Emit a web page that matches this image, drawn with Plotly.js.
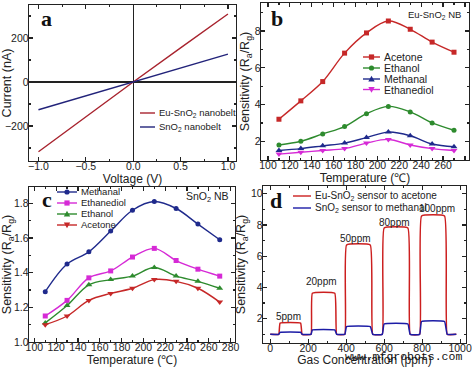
<!DOCTYPE html>
<html>
<head>
<meta charset="utf-8">
<script src="https://cdn.plot.ly/plotly-3.0.1.min.js"></script>
<style>html,body{margin:0;padding:0;background:#fff;}#chart{width:472px;height:367px;}</style>
</head>
<body>
<div id="chart"></div>
<script>
// Panel a: I-V curves
const voltage = [-1.0, -0.5, 0.0, 0.5, 1.0];
const currentEu = [-317, -158, 0, 155, 309];
const currentSn = [-126, -63, 0, 63, 127];

// Panel b: Eu-SnO2 NB sensitivity vs temperature
const temps = [110, 130, 150, 170, 190, 210, 230, 250, 270];
const bAcetone = [3.2, 4.2, 5.25, 6.8, 7.9, 8.55, 8.1, 7.4, 6.85];
const bEthanol = [1.8, 2.0, 2.4, 2.8, 3.5, 3.9, 3.6, 3.0, 2.6];
const bMethanal = [1.5, 1.6, 1.75, 1.9, 2.2, 2.5, 2.3, 1.85, 1.7];
const bEthanediol = [1.3, 1.4, 1.5, 1.6, 1.9, 2.1, 1.8, 1.6, 1.5];

// Panel c: SnO2 NB sensitivity vs temperature
const cMethanal = [1.29, 1.45, 1.52, 1.64, 1.76, 1.81, 1.77, 1.68, 1.59];
const cEthanediol = [1.15, 1.24, 1.37, 1.41, 1.49, 1.54, 1.47, 1.42, 1.38];
const cEthanol = [1.11, 1.21, 1.33, 1.36, 1.38, 1.43, 1.38, 1.35, 1.31];
const cAcetone = [1.10, 1.15, 1.24, 1.28, 1.31, 1.36, 1.35, 1.31, 1.23];

// Panel d: dynamic response
const dTime = [0, 45, 52, 160, 168, 215, 222, 340, 350, 393, 402, 527, 540, 590, 600, 725, 737, 787, 797, 918, 932, 980];
const dEu = [1.0, 1.0, 1.72, 1.72, 1.0, 1.0, 3.63, 3.63, 1.0, 1.0, 6.72, 6.72, 1.0, 1.0, 7.80, 7.80, 1.0, 1.0, 8.57, 8.57, 1.0, 1.0];
const dSn = [1.0, 1.0, 1.13, 1.13, 1.0, 1.0, 1.28, 1.28, 1.0, 1.0, 1.49, 1.49, 1.0, 1.0, 1.66, 1.66, 1.0, 1.0, 1.82, 1.82, 1.0, 1.0];
const ppmLabels = ['5ppm', '20ppm', '50ppm', '80ppm', '100ppm'];
const ppmX = [98, 272, 451, 653, 878];
const ppmY = [2.15, 4.39, 7.16, 8.17, 9.02];

const FONT = 'Arial, "Liberation Sans", sans-serif';
const INK = '#222';
const W = 472, H = 367;

function ax(extra, isY) {
  return Object.assign({
    showline: true, mirror: 'ticks', linecolor: INK, linewidth: 1.3,
    ticks: 'inside', ticklen: 4, tickwidth: 1.2, tickcolor: INK,
    showgrid: false, zeroline: false, automargin: false,
    ticklabelstandoff: isY ? -3 : -5,
    tickfont: {family: FONT, size: 10.5, color: INK},
  }, extra);
}
function ttl(t, isY) {
  return {text: t, standoff: 2, font: {family: FONT, size: isY ? 12.5 : 12, color: INK}};
}

const RED = '#c62828', GREEN = '#2e8b2e', NAVY = '#1f2a8c', MAG = '#d62ad6';
const EU_A = '#a8232e', SN_A = '#22237a', EU_D = '#cc1f1f', SN_D = '#1c1ca6';

const traces = [
  {x: voltage, y: currentEu, mode: 'lines', name: 'Eu-SnO2 nanobelt', line: {color: EU_A, width: 1.4}, xaxis: 'x', yaxis: 'y'},
  {x: voltage, y: currentSn, mode: 'lines', name: 'SnO2 nanobelt', line: {color: SN_A, width: 1.4}, xaxis: 'x', yaxis: 'y'},

  {x: temps, y: bAcetone, mode: 'lines+markers', name: 'Acetone', line: {color: RED, width: 1.4, shape: 'spline'}, marker: {symbol: 'square', size: 5, color: RED}, xaxis: 'x2', yaxis: 'y2'},
  {x: temps, y: bEthanol, mode: 'lines+markers', name: 'Ethanol', line: {color: GREEN, width: 1.4, shape: 'spline'}, marker: {symbol: 'circle', size: 5, color: GREEN}, xaxis: 'x2', yaxis: 'y2'},
  {x: temps, y: bMethanal, mode: 'lines+markers', name: 'Methanal', line: {color: NAVY, width: 1.4, shape: 'spline'}, marker: {symbol: 'triangle-up', size: 6, color: NAVY}, xaxis: 'x2', yaxis: 'y2'},
  {x: temps, y: bEthanediol, mode: 'lines+markers', name: 'Ethanediol', line: {color: MAG, width: 1.4, shape: 'spline'}, marker: {symbol: 'triangle-down', size: 6, color: MAG}, xaxis: 'x2', yaxis: 'y2'},

  {x: temps, y: cMethanal, mode: 'lines+markers', name: 'Methanal', line: {color: NAVY, width: 1.4, shape: 'spline'}, marker: {symbol: 'circle', size: 5, color: NAVY}, xaxis: 'x3', yaxis: 'y3'},
  {x: temps, y: cEthanediol, mode: 'lines+markers', name: 'Ethanediol', line: {color: MAG, width: 1.4, shape: 'spline'}, marker: {symbol: 'square', size: 5, color: MAG}, xaxis: 'x3', yaxis: 'y3'},
  {x: temps, y: cEthanol, mode: 'lines+markers', name: 'Ethanol', line: {color: GREEN, width: 1.4, shape: 'spline'}, marker: {symbol: 'triangle-up', size: 6, color: GREEN}, xaxis: 'x3', yaxis: 'y3'},
  {x: temps, y: cAcetone, mode: 'lines+markers', name: 'Acetone', line: {color: RED, width: 1.4, shape: 'spline'}, marker: {symbol: 'triangle-down', size: 6, color: RED}, xaxis: 'x3', yaxis: 'y3'},

  {x: dTime, y: dEu, mode: 'lines', name: 'Eu-SnO2 sensor to acetone', line: {color: EU_D, width: 1.5, shape: 'spline', smoothing: 0.3}, xaxis: 'x4', yaxis: 'y4'},
  {x: dTime, y: dSn, mode: 'lines', name: 'SnO2 sensor to methanal', line: {color: SN_D, width: 1.5, shape: 'spline', smoothing: 0.3}, xaxis: 'x4', yaxis: 'y4'},
];

// Legend keys drawn as small line samples (decoration only)
const shapes = [];
const annotations = [];
const px = v => v / W, py = v => 1 - v / H;
function key(x0, x1, cy, color, sym, text, size) {
  shapes.push({type: 'line', xref: 'paper', yref: 'paper', x0: px(x0), x1: px(x1), y0: py(cy), y1: py(cy), line: {color: color, width: 1.4}});
  const cx = (x0 + x1) / 2, r = 2.6;
  if (sym === 'square') {
    shapes.push({type: 'rect', xref: 'paper', yref: 'paper', x0: px(cx - r), x1: px(cx + r), y0: py(cy + r), y1: py(cy - r), fillcolor: color, line: {width: 0}});
  } else if (sym === 'circle') {
    shapes.push({type: 'circle', xref: 'paper', yref: 'paper', x0: px(cx - r), x1: px(cx + r), y0: py(cy + r), y1: py(cy - r), fillcolor: color, line: {width: 0}});
  } else if (sym === 'up') {
    shapes.push({type: 'path', xref: 'paper', yref: 'paper', path: `M${px(cx - 3.2)},${py(cy + 2.4)} L${px(cx + 3.2)},${py(cy + 2.4)} L${px(cx)},${py(cy - 3.2)} Z`, fillcolor: color, line: {width: 0}});
  } else if (sym === 'down') {
    shapes.push({type: 'path', xref: 'paper', yref: 'paper', path: `M${px(cx - 3.2)},${py(cy - 2.4)} L${px(cx + 3.2)},${py(cy - 2.4)} L${px(cx)},${py(cy + 3.2)} Z`, fillcolor: color, line: {width: 0}});
  }
  annotations.push({text: text, xref: 'paper', yref: 'paper', x: px(x1 + 2), y: py(cy), xanchor: 'left', yanchor: 'middle', showarrow: false, font: {family: FONT, size: size, color: INK}});
}
key(140, 155, 113, EU_A, null, 'Eu-SnO<sub>2</sub> nanobelt', 9.5);
key(140, 155, 127, SN_A, null, 'SnO<sub>2</sub> nanobelt', 9.5);
key(363, 380, 57, RED, 'square', 'Acetone', 10.5);
key(363, 380, 68, GREEN, 'circle', 'Ethanol', 10.5);
key(363, 380, 79, NAVY, 'up', 'Methanal', 10.5);
key(363, 380, 89.5, MAG, 'down', 'Ethanediol', 10.5);
key(57, 77, 192, NAVY, 'circle', 'Methanal', 9.5);
key(57, 77, 203, MAG, 'square', 'Ethanediol', 9.5);
key(57, 77, 214, GREEN, 'up', 'Ethanol', 9.5);
key(57, 77, 225, RED, 'down', 'Acetone', 9.5);
key(293, 311, 196, EU_D, null, 'Eu-SnO<sub>2</sub> sensor to acetone', 10);
key(293, 311, 208, SN_D, null, 'SnO<sub>2</sub> sensor to methanal', 10);

[
  {text: '<b>a</b>', x: 46, y: 18},
  {text: '<b>b</b>', x: 277, y: 18},
  {text: '<b>c</b>', x: 47, y: 199},
  {text: '<b>d</b>', x: 276, y: 200},
].forEach(a => annotations.push({text: a.text, xref: 'paper', yref: 'paper', x: px(a.x), y: py(a.y), showarrow: false, xanchor: 'center', yanchor: 'middle', font: {family: '"Liberation Serif", "Times New Roman", serif', size: 22, color: '#111'}}));

annotations.push({text: 'Eu-SnO<sub>2</sub> NB', xref: 'paper', yref: 'paper', x: px(434), y: py(15), showarrow: false, xanchor: 'center', yanchor: 'middle', font: {family: FONT, size: 9.5, color: INK}});
annotations.push({text: 'SnO<sub>2</sub> NB', xref: 'paper', yref: 'paper', x: px(207), y: py(197), showarrow: false, xanchor: 'center', yanchor: 'middle', font: {family: FONT, size: 10.5, color: INK}});
for (let i = 0; i < ppmLabels.length; i++) {
  annotations.push({text: ppmLabels[i], xref: 'x4', yref: 'y4', x: ppmX[i], y: ppmY[i], showarrow: false, xanchor: 'center', yanchor: 'middle', font: {family: FONT, size: 10, color: INK}});
}
annotations.push({text: 'www.mfgrobots.com', xref: 'paper', yref: 'paper', x: px(403), y: py(356), showarrow: false, xanchor: 'center', yanchor: 'middle', font: {family: '"Liberation Mono", "Courier New", monospace', size: 11.5, color: '#111'}});

const layout = {
  width: W, height: H,
  margin: {l: 0, r: 0, t: 0, b: 0},
  paper_bgcolor: '#fff', plot_bgcolor: '#fff',
  font: {family: FONT, color: INK},
  showlegend: false,
  xaxis: ax({domain: [29/W, 236/W], range: [-1.10, 1.085], anchor: 'y', dtick: 0.5, tickformat: '.1f', minor: {dtick: 0.25, ticks: 'inside', ticklen: 2, tickcolor: INK}, zeroline: true, zerolinecolor: INK, zerolinewidth: 1.3, title: ttl('Voltage (V)')}),
  yaxis: ax({domain: [1-161/H, 1-5/H], range: [-359, 350], anchor: 'x', dtick: 200, minor: {dtick: 100, ticks: 'inside', ticklen: 2, tickcolor: INK}, zeroline: true, zerolinecolor: INK, zerolinewidth: 1.3, title: ttl('Current (nA)', true)}, true),

  xaxis2: ax({domain: [261/W, 469/W], range: [93.6, 283.7], anchor: 'y2', dtick: 20, minor: {dtick: 10, ticks: 'inside', ticklen: 2, tickcolor: INK}, title: ttl('Temperature (℃)')}),
  yaxis2: ax({domain: [1-160/H, 1-3/H], range: [0.98, 9.53], anchor: 'x2', dtick: 2, tick0: 0, minor: {dtick: 1, ticks: 'inside', ticklen: 2, tickcolor: INK}, title: ttl('Sensitivity (R<sub>a</sub>/R<sub>g</sub>)', true)}, true),

  xaxis3: ax({domain: [29/W, 235/W], range: [95.1, 284], anchor: 'y3', dtick: 20, minor: {dtick: 10, ticks: 'inside', ticklen: 2, tickcolor: INK}, title: ttl('Temperature (℃)')}),
  yaxis3: ax({domain: [1-342/H, 1-187/H], range: [1.0, 1.894], anchor: 'x3', dtick: 0.2, tick0: 0, tickformat: '.1f', minor: {dtick: 0.1, ticks: 'inside', ticklen: 2, tickcolor: INK}, title: ttl('Sensitivity (R<sub>a</sub>/R<sub>g</sub>)', true)}, true),

  xaxis4: ax({domain: [263/W, 466/W], range: [-38, 1031], anchor: 'y4', dtick: 200, minor: {dtick: 100, ticks: 'inside', ticklen: 2, tickcolor: INK}, title: ttl('Gas Concentration (ppm)')}),
  yaxis4: ax({domain: [1-343/H, 1-186/H], range: [0.445, 10.49], anchor: 'x4', dtick: 2, tick0: 0, minor: {dtick: 1, ticks: 'inside', ticklen: 2, tickcolor: INK}, title: ttl('Sensitivity (R<sub>a</sub>/R<sub>g</sub>)', true)}, true),

  shapes: shapes,
  annotations: annotations,
};

Plotly.newPlot('chart', traces, layout, {displayModeBar: false, staticPlot: true});
</script>
</body>
</html>
